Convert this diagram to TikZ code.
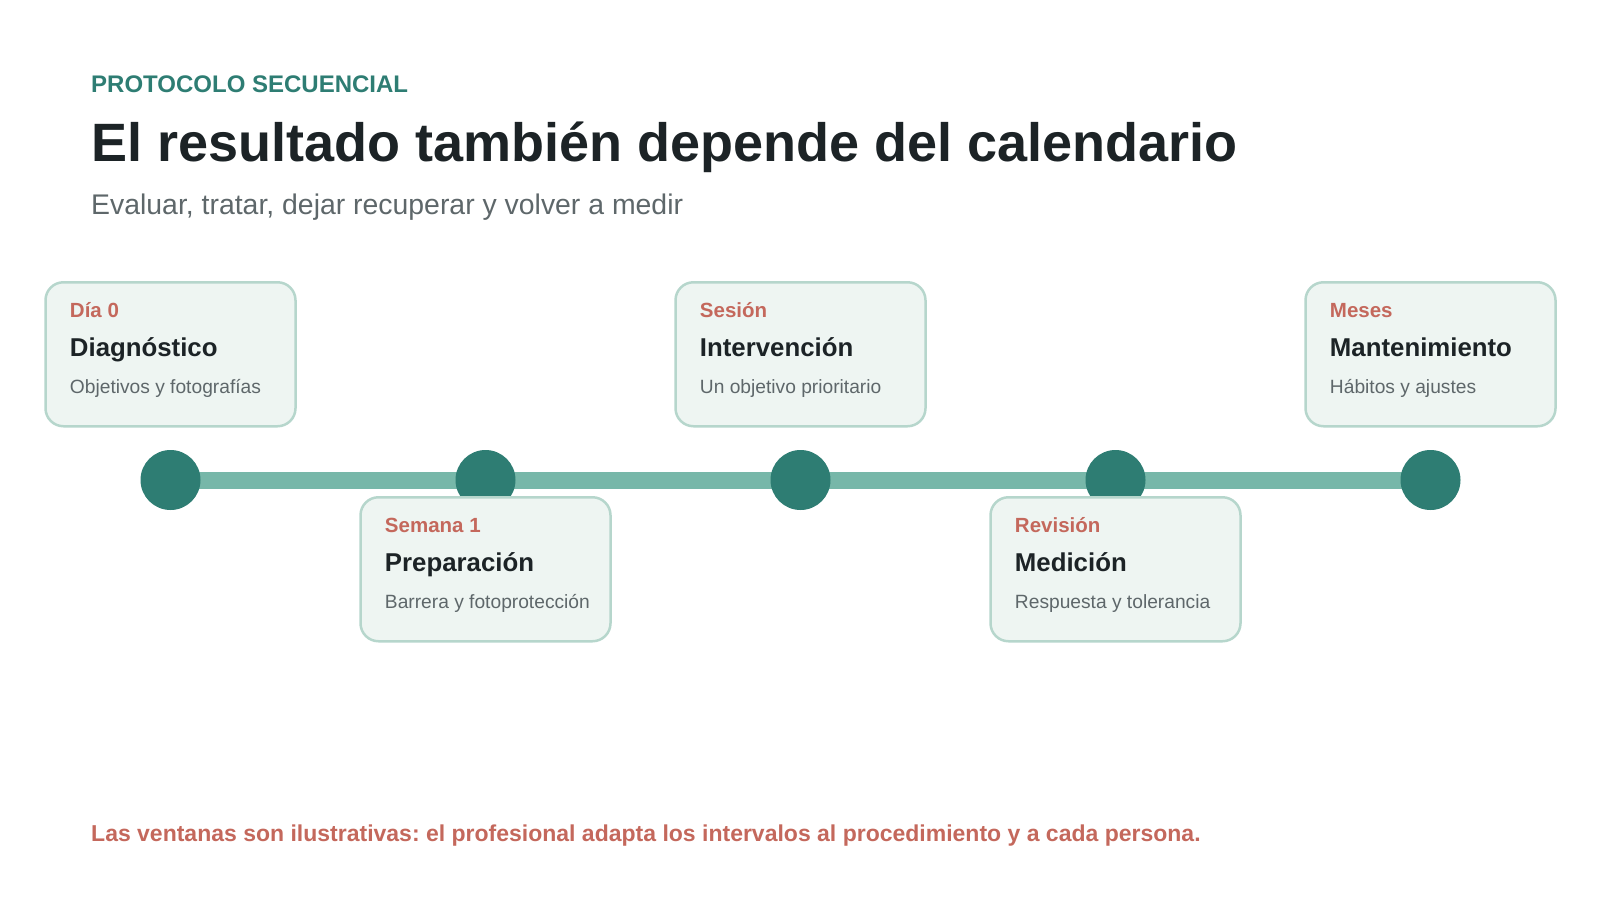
\documentclass[tikz,border=0pt]{standalone}
\usepackage{fontspec}
\setmainfont{Liberation Sans}
\usetikzlibrary{backgrounds}
\frenchspacing
\definecolor{teal}{HTML}{2E7D73}
\definecolor{tealtrack}{HTML}{77B7A9}
\definecolor{ink}{HTML}{1C2326}
\definecolor{grayt}{HTML}{5E676A}
\definecolor{redt}{HTML}{C4685C}
\definecolor{cardfill}{HTML}{EEF5F2}
\definecolor{cardline}{HTML}{B6D6CC}
\tikzset{
  kicker/.style={anchor=base west, inner sep=0pt, text=teal, font=\fontsize{24}{28}\selectfont\bfseries},
  headline/.style={anchor=base west, inner sep=0pt, text=ink, font=\fontsize{54}{60}\selectfont\bfseries},
  subline/.style={anchor=base west, inner sep=0pt, text=grayt, font=\fontsize{28.4}{32}\selectfont},
  footnote/.style={anchor=base west, inner sep=0pt, text=redt, font=\fontsize{23}{26}\selectfont\bfseries},
  dot/.style={circle, fill=teal, minimum size=60pt, inner sep=0pt},
  track/.style={draw=tealtrack, line width=17pt},
  card/.style={draw=cardline, line width=2.5pt, fill=cardfill, rounded corners=18pt, minimum width=250pt, minimum height=144pt, inner sep=0pt},
  cardlab/.style={anchor=base west, inner sep=0pt, text=redt, font=\fontsize{20.5}{24}\selectfont\bfseries},
  cardtitle/.style={anchor=base west, inner sep=0pt, text=ink, font=\fontsize{25.8}{30}\selectfont\bfseries},
  cardsub/.style={anchor=base west, inner sep=0pt, text=grayt, font=\fontsize{19.2}{22}\selectfont},
}
\begin{document}
\begin{tikzpicture}[x=1pt, y=-1pt]
\useasboundingbox (0,0) rectangle (1600,900);
% header
\node[kicker] (kick) at (91,92.3) {PROTOCOLO SECUENCIAL};
\node[headline] (head) at (91,161.7) {El resultado también depende del calendario};
\node[subline] (sub) at (91,214) {Evaluar, tratar, dejar recuperar y volver a medir};
% timeline dots
\foreach \i/\x in {1/170.5,2/485.5,3/800.5,4/1115.5,5/1430.5}{
  \node[dot] (c\i) at (\x,480) {};
}
\begin{scope}[on background layer]
\draw[track] (c1.center) -- (c2.center) -- (c3.center) -- (c4.center) -- (c5.center);
\end{scope}
% cards
\foreach \i/\x/\y/\lab/\tit/\sub in {
  1/170.5/281/{Día 0}/{Diagnóstico}/{Objetivos y fotografías},
  2/485.5/496/{Semana 1}/{Preparación}/{Barrera y fotoprotección},
  3/800.5/281/{Sesión}/{Intervención}/{Un objetivo prioritario},
  4/1115.5/496/{Revisión}/{Medición}/{Respuesta y tolerancia},
  5/1430.5/281/{Meses}/{Mantenimiento}/{Hábitos y ajustes}}{
  \node[card, anchor=north] (k\i) at (\x,\y) {};
  \node[cardlab] (l\i) at ([xshift=25.5pt,yshift=-36.6pt]k\i.north west) {\lab};
  \node[cardtitle] (t\i) at ([xshift=25.5pt,yshift=-75pt]k\i.north west) {\tit};
  \node[cardsub] (s\i) at ([xshift=25.5pt,yshift=-112.6pt]k\i.north west) {\sub};
}
% footer
\node[footnote] (foot) at (91,841.7) {Las ventanas son ilustrativas: el profesional adapta los intervalos al procedimiento y a cada persona.};
\end{tikzpicture}
\end{document}
